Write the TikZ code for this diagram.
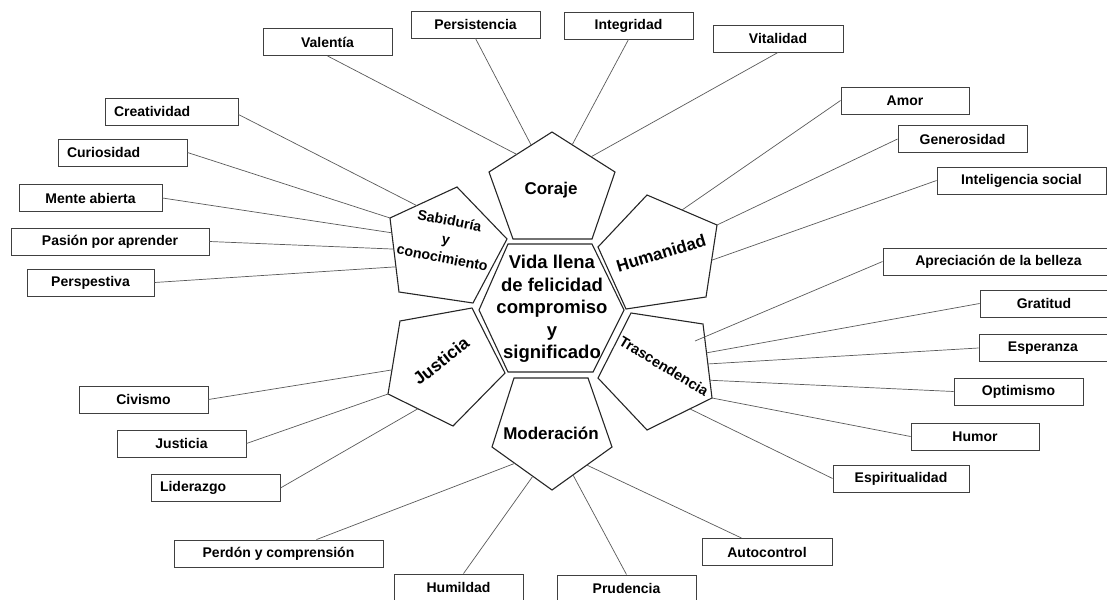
\documentclass[tikz,border=0pt]{standalone}
\usepackage{fontspec}
\setmainfont{Liberation Sans}
\usetikzlibrary{calc}

\tikzset{
	box/.style={draw=black!75, line width=0.9pt, minimum width=129pt, minimum height=27pt, inner sep=0pt, font=\bfseries\fontsize{14}{16}\selectfont},
	leftbox/.style={box, text width=#1, align=left, inner xsep=9pt},
	link/.style={draw=black!65, line width=0.7pt},
	face/.style={draw=black!85, line width=1.1pt, line join=miter},
	facetext/.style={font=\bfseries\fontsize{17}{19}\selectfont, align=center, inner sep=0pt},
}

\begin{document}
\begin{tikzpicture}[x=1pt, y=-1pt]
	\clip (0,0) rectangle (1107,599);

	\draw[face] (508,244) -- (592,244) -- (624,310) -- (593,372) -- (508,372) -- (479,310) -- cycle;
	\node[facetext, font=\bfseries\fontsize{18.5}{22.5}\selectfont] (vida) at (552,309) {Vida llena\\de felicidad\\compromiso\\y\\significado};

	\coordinate (c1) at (552,132);
	\coordinate (c2) at (615,172);
	\coordinate (c3) at (592,239);
	\coordinate (c4) at (513,239);
	\coordinate (c5) at (489,172);
	\draw[face] (c1) -- (c2) -- (c3) -- (c4) -- (c5) -- cycle;
	\node[facetext] (coraje) at (551,190) {Coraje};

	\coordinate (h1) at (647,195);
	\coordinate (h2) at (717,225);
	\coordinate (h3) at (706,297);
	\coordinate (h4) at (626,309);
	\coordinate (h5) at (598,247);
	\draw[face] (h1) -- (h2) -- (h3) -- (h4) -- (h5) -- cycle;
	\node[facetext, rotate=17] (humanidad) at (661,253) {Humanidad};

	\coordinate (t1) at (631,313);
	\coordinate (t2) at (703,324);
	\coordinate (t3) at (712,398);
	\coordinate (t4) at (647,430);
	\coordinate (t5) at (598,378);
	\draw[face] (t1) -- (t2) -- (t3) -- (t4) -- (t5) -- cycle;
	\node[facetext, font=\bfseries\fontsize{14.5}{16}\selectfont, rotate=-31] (trascendencia) at (664,366) {Trascendencia};

	\coordinate (m1) at (514,378);
	\coordinate (m2) at (588,378);
	\coordinate (m3) at (612,447);
	\coordinate (m4) at (552,490);
	\coordinate (m5) at (492,447);
	\draw[face] (m1) -- (m2) -- (m3) -- (m4) -- (m5) -- cycle;
	\node[facetext] (moderacion) at (551,433) {Moderación};

	\coordinate (j1) at (472,308);
	\coordinate (j2) at (505,373);
	\coordinate (j3) at (453,426);
	\coordinate (j4) at (388,394);
	\coordinate (j5) at (400,321);
	\draw[face] (j1) -- (j2) -- (j3) -- (j4) -- (j5) -- cycle;
	\node[facetext, font=\bfseries\fontsize{17.5}{19}\selectfont, rotate=38] (justicia) at (441,361) {Justicia};

	\coordinate (s1) at (457,187);
	\coordinate (s2) at (507,239);
	\coordinate (s3) at (473,303);
	\coordinate (s4) at (399,292);
	\coordinate (s5) at (390,218);
	\draw[face] (s1) -- (s2) -- (s3) -- (s4) -- (s5) -- cycle;
	\node[facetext, font=\bfseries\fontsize{14.2}{19}\selectfont, rotate=-11] (sabiduria) at (446,239) {Sabiduría\\y\\conocimiento};

	\node[box] (valentia) at (327.5,42) {Valentía};
	\node[box] (persistencia) at (475.5,24.5) {Persistencia};
	\node[box] (integridad) at (628.5,25.5) {Integridad};
	\node[box, minimum width=130pt] (vitalidad) at (778,38.5) {Vitalidad};
	\draw[link] (valentia.south) -- ($(c5)!0.44!(c1)$);
	\draw[link] (persistencia.south) -- ($(c5)!0.67!(c1)$);
	\draw[link] (integridad.south) -- ($(c1)!0.32!(c2)$);
	\draw[link] (vitalidad.south) -- ($(c1)!0.62!(c2)$);

	\node[box, minimum width=128pt] (amor) at (905,100.5) {Amor};
	\node[box] (generosidad) at (962.5,139) {Generosidad};
	\node[box, minimum width=169pt] (intsocial) at (1021.5,180.5) {Inteligencia social};
	\draw[link] (amor.west) -- ($(h1)!0.5!(h2)$);
	\draw[link] (generosidad.west) -- (h2);
	\draw[link] (intsocial.west) -- ($(h2)!0.49!(h3)$);

	\coordinate (apre-end) at (695,341);
	\node[box, minimum width=231pt] (apreciacion) at (998.5,261.5) {Apreciación de la belleza};
	\node[box, minimum width=128pt] (gratitud) at (1044,303.5) {Gratitud};
	\node[box, minimum width=128pt] (esperanza) at (1043,348) {Esperanza};
	\node[box] (optimismo) at (1018.5,391.5) {Optimismo};
	\node[box, minimum width=128pt] (humor) at (975,436.5) {Humor};
	\node[box, minimum width=136pt] (espiritualidad) at (901,478.5) {Espiritualidad};
	\draw[link] (apreciacion.west) -- (apre-end);
	\draw[link] (gratitud.west) -- ($(t2)!0.39!(t3)$);
	\draw[link] (esperanza.west) -- ($(t2)!0.54!(t3)$);
	\draw[link] (optimismo.west) -- ($(t2)!0.76!(t3)$);
	\draw[link] (humor.west) -- (t3);
	\draw[link] (espiritualidad.west) -- ($(t3)!0.34!(t4)$);

	\node[box, minimum width=130pt] (autocontrol) at (767,552) {Autocontrol};
	\node[box, minimum width=139pt] (prudencia) at (626.5,588.5) {Prudencia};
	\node[box] (humildad) at (458.5,587.5) {Humildad};
	\node[box, minimum width=209pt] (perdon) at (278.5,553.5) {Perdón y comprensión};
	\draw[link] ([xshift=40pt]autocontrol.north west) -- ($(m3)!0.42!(m4)$);
	\draw[link] (prudencia.north) -- ($(m3)!0.65!(m4)$);
	\draw[link] ([xshift=5pt]humildad.north) -- ($(m4)!0.32!(m5)$);
	\draw[link] ([xshift=38pt]perdon.north) -- ($(m4)!0.62!(m5)$);

	\node[box] (civismo) at (143.5,399.5) {Civismo};
	\node[box] (justiciab) at (181.5,443.5) {Justicia};
	\node[leftbox=111pt] (liderazgo) at (215.5,488) {Liderazgo};
	\draw[link] (civismo.east) -- ($(j5)!0.67!(j4)$);
	\draw[link] (justiciab.east) -- (j4);
	\draw[link] (liderazgo.east) -- ($(j4)!0.46!(j3)$);

	\node[leftbox=115pt] (creatividad) at (171.5,111.5) {Creatividad};
	\node[leftbox=111pt] (curiosidad) at (122.5,152.5) {Curiosidad};
	\node[box, minimum width=143pt] (mente) at (90.5,198) {Mente abierta};
	\node[box, minimum width=198pt] (pasion) at (110,241.5) {Pasión por aprender};
	\node[box, minimum width=127pt] (perspestiva) at (90.5,282.5) {Perspestiva};
	\draw[link] ([yshift=-3pt]creatividad.east) -- ($(s5)!0.4!(s1)$);
	\draw[link] (curiosidad.east) -- (s5);
	\draw[link] (mente.east) -- ($(s5)!0.2!(s4)$);
	\draw[link] (pasion.east) -- ($(s5)!0.42!(s4)$);
	\draw[link] (perspestiva.east) -- ($(s5)!0.66!(s4)$);
\end{tikzpicture}
\end{document}
